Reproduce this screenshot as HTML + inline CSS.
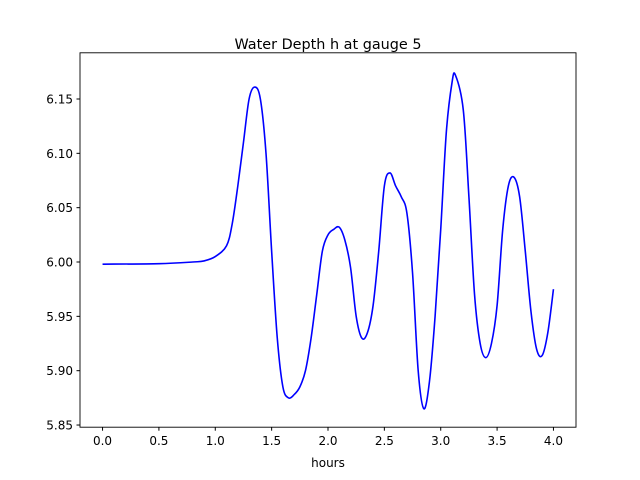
<!DOCTYPE html>
<html><head><meta charset="utf-8"><style>
body{margin:0;background:#fff;}
svg{display:block;font-family:"DejaVu Sans","Liberation Sans",sans-serif;}
</style></head><body>
<svg id="chart" width="640" height="480">
<rect width="640" height="480" fill="#fff"/>
<text x="328" y="49" text-anchor="middle" font-size="14.4">Water Depth h at gauge 5</text>
<g id="xt"></g>
<g id="yt"></g>
<path id="line" fill="none" stroke="#0000ff" stroke-width="1.6"/>
<rect x="80" y="52.8" width="496" height="374.4" fill="none" stroke="#000" stroke-width="0.9"/>
<text x="328" y="467" text-anchor="middle" font-size="12">hours</text>
</svg>
<script>
const hours=[0,0.5,0.8,0.9,1.0,1.1,1.15,1.2,1.25,1.3,1.35,1.4,1.45,1.5,1.55,1.6,1.65,1.7,1.75,1.8,1.85,1.9,1.95,2.0,2.05,2.1,2.15,2.2,2.25,2.3,2.35,2.4,2.45,2.5,2.55,2.6,2.65,2.7,2.75,2.8,2.85,2.9,2.95,3.0,3.05,3.1,3.13,3.2,3.25,3.3,3.35,3.4,3.45,3.5,3.55,3.6,3.65,3.7,3.75,3.8,3.85,3.9,3.95,4.0];
const depth=[5.998,5.9985,6.0,6.001,6.005,6.015,6.035,6.07,6.11,6.15,6.161,6.15,6.10,6.01,5.93,5.885,5.875,5.878,5.885,5.90,5.93,5.97,6.01,6.025,6.03,6.032,6.02,5.995,5.95,5.93,5.935,5.96,6.01,6.07,6.082,6.07,6.06,6.045,5.99,5.90,5.865,5.89,5.95,6.03,6.12,6.165,6.172,6.14,6.06,5.97,5.925,5.912,5.925,5.96,6.03,6.07,6.078,6.06,6.01,5.955,5.92,5.914,5.935,5.975];
const xTicks=[0,0.5,1.0,1.5,2.0,2.5,3.0,3.5,4.0];
const yTicks=[5.85,5.90,5.95,6.00,6.05,6.10,6.15];
const X0=80,X1=576,Y0=427.2,Y1=52.8,xmin=-0.2,xmax=4.2,ymin=5.848,ymax=6.1925;
const sx=v=>X0+(v-xmin)/(xmax-xmin)*(X1-X0);
const sy=v=>Y0-(v-ymin)/(ymax-ymin)*(Y0-Y1);
const NS="http://www.w3.org/2000/svg";
const xt=document.getElementById('xt'),yt=document.getElementById('yt');
xTicks.forEach(t=>{
 const l=document.createElementNS(NS,'line');
 
 
 l.setAttribute('x1',sx(t));l.setAttribute('x2',sx(t));l.setAttribute('y1',Y0);l.setAttribute('y2',Y0+3.5);l.setAttribute('stroke','#000');
 xt.appendChild(l);
 const s=document.createElementNS(NS,'text');
 
 
 s.setAttribute('x',sx(t));s.setAttribute('y',Y0+18);s.setAttribute('text-anchor','middle');s.setAttribute('font-size','12');
 s.textContent=t.toFixed(1);xt.appendChild(s);
});
yTicks.forEach(t=>{
 const l=document.createElementNS(NS,'line');
 
 
 l.setAttribute('x1',X0-3.5);l.setAttribute('x2',X0);l.setAttribute('y1',sy(t));l.setAttribute('y2',sy(t));l.setAttribute('stroke','#000');
 yt.appendChild(l);
 const s=document.createElementNS(NS,'text');
 
 
 s.setAttribute('x',X0-7);s.setAttribute('y',sy(t)+4.5);s.setAttribute('text-anchor','end');s.setAttribute('font-size','12');
 s.textContent=t.toFixed(2);yt.appendChild(s);
});
// Catmull-Rom smooth path
const P=hours.map((h,i)=>[sx(h),sy(depth[i])]);
let d='M'+P[0][0]+','+P[0][1];
for(let i=0;i<P.length-1;i++){
 const p0=P[Math.max(0,i-1)],p1=P[i],p2=P[i+1],p3=P[Math.min(P.length-1,i+2)];
 const c1=[p1[0]+(p2[0]-p0[0])/6,p1[1]+(p2[1]-p0[1])/6];
 const c2=[p2[0]-(p3[0]-p1[0])/6,p2[1]-(p3[1]-p1[1])/6];
 d+=' C'+c1[0]+','+c1[1]+' '+c2[0]+','+c2[1]+' '+p2[0]+','+p2[1];
}
document.getElementById('line').setAttribute('d',d);
</script>
</body></html>
